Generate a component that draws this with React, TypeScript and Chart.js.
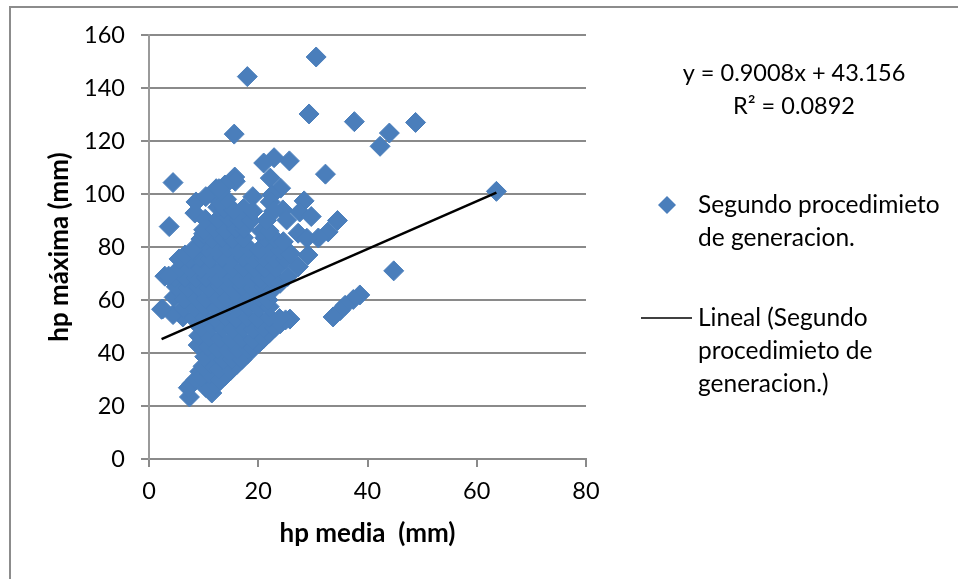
import React, { useEffect, useRef } from "react";
import { Chart, registerables } from "chart.js";

Chart.register(...registerables);

const FONT = "Lato, Carlito, 'Open Sans', sans-serif";

const xTicks = [0, 20, 40, 60, 80];
const yTicks = [0, 20, 40, 60, 80, 100, 120, 140, 160];

const seriesName = ["Segundo procedimieto", "de generacion."];
const trendName = ["Lineal (Segundo", "procedimieto de", "generacion.)"];
const equationLines = ["y = 0.9008x + 43.156", "R² = 0.0892"];
const xTitle = "hp media  (mm)";
const yTitle = "hp máxima (mm)";

const hpMedia = [
  30.6, 18, 29.3, 37.6, 48.8, 15.6, 44, 42.3, 22.9, 21, 25.7, 32.3, 63.6, 4.4, 3.7, 44.8, 2.5, 2.9,
  38.6, 37.4, 35.9, 35, 33.7, 25.8, 15.7, 15.8, 12.3, 13.9, 22.2, 24.1, 22.5, 19, 28.4, 27.6, 29.7, 34.5, 32.8, 31, 27.3, 28.9, 29.1, 27.3, 24.5, 25.2, 22.2,
  7.4, 7.2, 7.9, 8.6, 9.3, 11.5, 10.4, 12.1, 9.6, 11.1, 13, 14, 9.9, 11.4, 12.8, 15, 16, 10.2, 12, 13.6, 15.2, 17, 18, 9, 10.8, 12.6, 14.4, 16.2, 18, 19, 20,
  9.1, 11, 13, 15, 17, 19, 21, 22, 9.5, 11.5, 13.4, 15.3, 17.2, 19.1, 21, 23, 24, 25, 6.2, 8.2, 10.1, 12.1, 14, 16, 18, 20, 22, 23.9,
  4.4, 6.3, 8.3, 10.2, 12.2, 14.1, 16.1, 18.1, 20, 22, 4.6, 6.5, 8.5, 10.4, 12.4, 14.3, 16.3, 18.2, 20.2, 21.8, 5, 7, 9, 11, 13, 15, 17, 19, 21, 22.2,
  4.7, 6.6, 8.6, 10.5, 12.5, 14.5, 16.4, 18.4, 20.3, 22.2, 24, 3.6, 5.6, 7.5, 9.5, 11.4, 13.4, 15.3, 17.3, 19.3, 21.2, 23.2, 25.4,
  5.5, 7.4, 9.4, 11.3, 13.3, 15.2, 17.2, 19.1, 21.1, 23, 25, 27.3, 6.6, 8.5, 10.5, 12.4, 14.4, 16.3, 18.3, 20.2, 22.2, 24.1, 25.9,
  8, 9.5, 11.4, 13.4, 15.3, 17.3, 21.2, 23.1, 24.6,
  10, 10, 12, 14, 16, 17.4, 20.6, 22,
  8.4, 10.3, 12.6, 14.5, 16.5, 18.6, 21.5,
  8.6, 12.6, 13.8, 15.4, 17.3, 19,
  12.4, 14.2, 22.8,
  10.4, 13.1, 12.8,
  2.3,
];
const hpMaxima = [
  151.7, 144.3, 130.2, 127.3, 127, 122.6, 123, 118, 113.7, 111.7, 112.5, 107.5, 101, 104.3, 87.7, 71, 56.6, 69,
  61.9, 60.2, 58, 56, 53.6, 52.8, 106.4, 104.8, 102, 103.4, 106, 102.2, 99.6, 99, 97.4, 93.2, 91.5, 90, 85.7, 83.4, 85.2, 83.3, 77, 72.6, 94, 90.2, 97,
  23.4, 26.9, 28.5, 30, 33, 24.9, 27, 28, 31, 32, 29.5, 31.5, 35, 36, 34, 33.5, 35.5, 38.6, 39.5, 37.5, 37.5, 37.5, 39.5, 43, 42.5, 41.5, 41, 41.5, 41.5, 42, 43.5,
  46.5, 46, 45.5, 45, 45.5, 45, 45.5, 47.5, 49.5, 50, 49.5, 49, 49.5, 49, 49.5, 49.5, 51, 52.5, 53.6, 53, 53.5, 53, 53.5, 53, 53.5, 53, 53.5, 53,
  54.5, 57, 57, 57.5, 57, 57.5, 57, 57.5, 57, 57.5, 61, 60.5, 61, 60.5, 61, 60.5, 61, 60.5, 61, 60, 65, 64.5, 65, 64.5, 65, 64.5, 65, 64.5, 65, 63,
  68.5, 68.5, 68, 68.5, 68, 68.5, 68, 68.5, 68, 68.5, 66.3, 69, 72, 72, 72, 72, 72, 72, 72, 72, 72, 72, 68.9,
  75.5, 75.5, 76, 75.5, 76, 75.5, 76, 75.5, 76, 75.5, 75.5, 72.6, 77, 79, 79.5, 79, 79.5, 79, 79.5, 79, 79.5, 79, 77.5,
  79, 83, 83, 83.5, 83, 83.5, 83.5, 83, 82,
  85, 86.5, 87, 86.5, 87, 87, 86, 86,
  92.8, 90.5, 90.5, 91, 90.5, 90, 90,
  97, 95, 94.5, 94, 94.5, 93.5,
  98, 98, 93.5,
  99, 101, 102,
  56.5,
];

const trendX = [2.3, 63.6];
const trendY = [45.2, 100.5];

export default function App() {
  const ref = useRef<HTMLCanvasElement | null>(null);
  useEffect(() => {
    if (!ref.current) return;
    const frameAndKey = {
      id: "frameAndKey",
      beforeDraw(chart: any) {
        const c = chart.ctx;
        c.save();
        c.strokeStyle = "#8c8c8c";
        c.lineWidth = 2;
        c.beginPath();
        c.moveTo(10, 579);
        c.lineTo(10, 7);
        c.lineTo(958, 7);
        c.stroke();
        c.restore();
      },
      afterDraw(chart: any) {
        const c = chart.ctx;
        c.save();
        c.fillStyle = "#000";
        c.font = `23.5px ${FONT}`;
        c.textBaseline = "middle";
        c.textAlign = "center";
        c.fillText(equationLines[0], 794, 73);
        c.fillText(equationLines[1], 794, 106);
        c.font = `24.5px ${FONT}`;
        c.textAlign = "left";
        seriesName.forEach((t, i) => c.fillText(t, 698, 205 + i * 33));
        trendName.forEach((t, i) => c.fillText(t, 698, 318 + i * 33));
        c.fillStyle = "#4A7EBB";
        c.beginPath();
        c.moveTo(667, 196);
        c.lineTo(676, 205);
        c.lineTo(667, 214);
        c.lineTo(658, 205);
        c.closePath();
        c.fill();
        c.strokeStyle = "#000";
        c.lineWidth = 1.5;
        c.beginPath();
        c.moveTo(641, 318);
        c.lineTo(692, 318);
        c.stroke();
        c.restore();
      },
    };
    const chart = new Chart(ref.current, {
      type: "scatter",
      data: {
        datasets: [
          {
            label: seriesName.join(" "),
            data: hpMedia.map((x, i) => ({ x, y: hpMaxima[i] })),
            backgroundColor: "#4A7EBB",
            borderColor: "#4A7EBB",
            borderWidth: 1,
            pointStyle: "rectRot",
            pointRadius: 10,
            order: 2,
          },
          {
            type: "line",
            label: trendName.join(" "),
            data: trendX.map((x, i) => ({ x, y: trendY[i] })),
            borderColor: "#000",
            borderWidth: 2.5,
            pointRadius: 0,
            showLine: true,
            order: 1,
          },
        ],
      } as any,
      options: {
        responsive: false,
        animation: false,
        layout: { padding: { top: 35, right: 372, bottom: 0, left: 0 } },
        plugins: {
          tooltip: { enabled: false },
          legend: { display: false },
        },
        scales: {
          x: {
            type: "linear",
            min: 0,
            max: 80,
            afterFit(s: any) { s.height = 120; },
            afterBuildTicks(s: any) { s.ticks = xTicks.map((value) => ({ value })); },
            grid: { drawOnChartArea: false, drawTicks: true, tickLength: 8, color: "#8a8a8a", lineWidth: 2 },
            border: { color: "#8a8a8a", width: 2 },
            ticks: { color: "#000", font: { family: FONT, size: 23.5 }, padding: 10, maxRotation: 0 },
            title: { display: true, text: xTitle, color: "#000", font: { family: FONT, size: 26, weight: "bold" }, padding: { top: 0, bottom: 30 } },
          },
          y: {
            type: "linear",
            min: 0,
            max: 160,
            afterFit(s: any) { s.width = 149; },
            afterBuildTicks(s: any) { s.ticks = yTicks.map((value) => ({ value })); },
            grid: { drawTicks: true, tickLength: 8, color: "#8a8a8a", lineWidth: 2 },
            border: { color: "#9a9a9a", width: 2 },
            ticks: { color: "#000", font: { family: FONT, size: 23.5 }, padding: 16 },
            title: { display: true, text: yTitle, color: "#000", font: { family: FONT, size: 26, weight: "bold" }, padding: { top: 44, bottom: 0 } },
          },
        },
      } as any,
      plugins: [frameAndKey],
    });
    return () => chart.destroy();
  }, []);
  return (
    <div style={{ position: "absolute", left: 0, top: 0, width: 958, height: 579, overflow: "hidden", background: "#fff" }}>
      <canvas ref={ref} width={958} height={579} style={{ display: "block" }} />
    </div>
  );
}
